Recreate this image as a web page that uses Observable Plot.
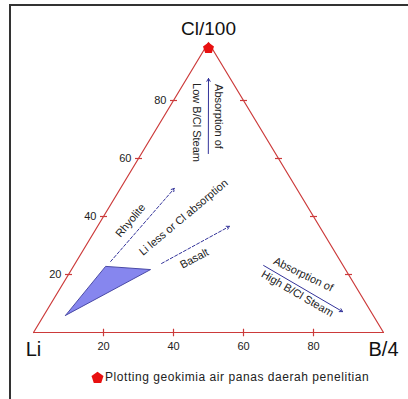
<!DOCTYPE html>
<html>
<head>
<meta charset="utf-8">
<script src="https://cdn.jsdelivr.net/npm/d3@7"></script>
<script src="https://cdn.jsdelivr.net/npm/@observablehq/plot@0.6"></script>
<style>
  html, body { margin: 0; padding: 0; background: #fff; overflow: hidden; }
  #wrap { position: relative; width: 408px; height: 399px; font-family: "Liberation Sans", Arial, sans-serif; }
  #border { position: absolute; left: 9px; top: 4px; width: 420px; height: 420px; border-left: 2px solid #333; border-top: 2px solid #333; box-sizing: border-box; pointer-events: none; }
  #legend { position: absolute; left: 0; top: 369px; width: 408px; height: 16px; font-size: 12px; color: #222; }
  #legend svg { position: absolute; left: 91px; top: 2px; }
  #legend span { position: absolute; left: 105px; top: 1px; letter-spacing: 0.55px; }
</style>
</head>
<body>
<div id="wrap">
  <div id="chart"></div>
  <div id="legend"></div>
  <div id="border"></div>
</div>
<script>
// Corner labels (Li, B/4, Cl/100)
const cornerNames = ["Li", "B/4", "Cl/100"];
const cornerLi = [100, 0, 0];
const cornerB  = [0, 100, 0];
const cornerCl = [0, 0, 100];

// Tick values on the edges
const tickValues = [20, 40, 60, 80];

// Field polygon (Li, B, Cl in %)
const fieldLi = [87.9, 68.0, 55.7];
const fieldB  = [6.2, 9.2, 22.6];
const fieldCl = [5.9, 22.8, 21.7];

// Sample point (plotted hot-spring sample)
const sampleLi = [1];
const sampleB  = [1];
const sampleCl = [98];
const legendLabel = "Plotting geokimia air panas daerah penelitian";

// Process arrows (start B, Cl -> end B, Cl)
const arrowStartB  = [9.8, 24.7, 54.2, 19.1];
const arrowStartCl = [24.5, 23.8, 23.1, 61.7];
const arrowEndB    = [15.4, 37.7, 84.7, 6.2];
const arrowEndCl   = [49.7, 36.6, 7.2, 87.6];
const arrowDashed  = [true, true, false, false];

// Annotation texts (position in B, Cl; angle)
const annText  = ["Rhyolite", "Li less or Cl absorption", "Basalt", "Absorption of", "High B/Cl Steam", "Absorption of", "Low B/Cl Steam"];
const annB     = [8.4, 23.0, 33.2, 67.1, 68.7, 15.6, 10.4];
const annCl    = [38.6, 39.7, 25.5, 20.0, 13.4, 74.5, 72.4];
const annAngle = [-50, -40, -28, 26, 30, 90, 90];

// ternary -> cartesian (x in 0..100 along base, y = Cl)
const tx = (B, Cl) => B + Cl / 2;

const corners = cornerNames.map((n, i) => ({name: n, x: tx(cornerB[i], cornerCl[i]), y: cornerCl[i]}));
const triangle = [0, 1, 2, 0].map(i => corners[i]);
const field = [0, 1, 2, 0].map(i => ({x: tx(fieldB[i], fieldCl[i]), y: fieldCl[i]}));
const samples = sampleB.map((b, i) => ({x: tx(b, sampleCl[i]), y: sampleCl[i]}));
const arrows = arrowStartB.map((b, i) => ({
  x1: tx(b, arrowStartCl[i]), y1: arrowStartCl[i],
  x2: tx(arrowEndB[i], arrowEndCl[i]), y2: arrowEndCl[i], dashed: arrowDashed[i]
}));
const anns = annText.map((t, i) => ({text: t, x: tx(annB[i], annCl[i]), y: annCl[i], angle: annAngle[i]}));

const leftTicks = tickValues.map(v => ({v, x: tx(0, v), y: v}));
const rightTicks = tickValues.map(v => ({v, x: tx(100 - v, v), y: v}));
const baseTicks = tickValues.map(v => ({v, x: tx(v, 0), y: 0}));

const pentagon = {
  draw(context, size) {
    const r = Math.sqrt(size / Math.PI) * 1.15;
    for (let k = 0; k < 5; k++) {
      const a = -Math.PI / 2 + k * 2 * Math.PI / 5;
      const px = r * Math.cos(a), py = r * Math.sin(a);
      if (k === 0) context.moveTo(px, py); else context.lineTo(px, py);
    }
    context.closePath();
  }
};

const red = "#cc3a3a";
const blue = "#33339a";

const chart = Plot.plot({
  width: 408,
  height: 362,
  marginLeft: 33,
  marginRight: 25,
  marginTop: 42,
  marginBottom: 30,
  style: {fontFamily: "'Liberation Sans', Arial, sans-serif", background: "transparent", overflow: "visible"},
  x: {domain: [0, 100], axis: null},
  y: {domain: [0, 100], axis: null},
  marks: [
    Plot.line(field, {x: "x", y: "y", fill: "#8686ee", stroke: "#4a4aa6", strokeWidth: 1}),
    Plot.line(triangle, {x: "x", y: "y", stroke: red, strokeWidth: 1.2}),
    Plot.link(leftTicks, {x1: d => d.x - 1, x2: d => d.x + 1, y1: "y", y2: "y", stroke: red, strokeWidth: 1.2}),
    Plot.link(rightTicks, {x1: d => d.x - 1, x2: d => d.x + 1, y1: "y", y2: "y", stroke: red, strokeWidth: 1.2}),
    Plot.link(baseTicks, {x1: "x", x2: "x", y1: -1.3, y2: 1.3, stroke: red, strokeWidth: 1.2}),
    Plot.text(leftTicks, {x: "x", y: "y", text: d => String(d.v), textAnchor: "end", dx: -7, fontSize: 11, fill: "#222"}),
    Plot.text(baseTicks, {x: "x", y: "y", text: d => String(d.v), dy: 14, fontSize: 11, fill: "#222"}),
    Plot.text(corners.slice(0, 2), {x: "x", y: "y", text: "name", dy: 17, fontSize: 20, fill: "#111"}),
    Plot.text(corners.slice(2), {x: "x", y: "y", text: "name", dy: -14, fontSize: 19, fill: "#111"}),
    Plot.arrow(arrows.filter(d => d.dashed), {x1: "x1", y1: "y1", x2: "x2", y2: "y2", stroke: blue, strokeWidth: 1, headLength: 5, strokeDasharray: "3,2"}),
    Plot.arrow(arrows.filter(d => !d.dashed), {x1: "x1", y1: "y1", x2: "x2", y2: "y2", stroke: blue, strokeWidth: 1, headLength: 5}),
    Plot.text(anns, {x: "x", y: "y", text: "text", rotate: "angle", fontSize: 11, fill: "#222"}),
    Plot.dot(samples, {x: "x", y: "y", symbol: pentagon, r: 5, fill: "#e81010", stroke: "none"})
  ]
});
document.getElementById("chart").appendChild(chart);

// Legend
const legend = document.getElementById("legend");
const ns = "http://www.w3.org/2000/svg";
const lsvg = document.createElementNS(ns, "svg");
lsvg.setAttribute("width", 13);
lsvg.setAttribute("height", 13);
const lpath = document.createElementNS(ns, "path");
const pctx = d3.path();
pentagon.draw(pctx, Math.PI * 30);
lpath.setAttribute("d", pctx.toString());
lpath.setAttribute("transform", "translate(6.5,7)");
lpath.setAttribute("fill", "#e81010");
lsvg.appendChild(lpath);
legend.appendChild(lsvg);
const span = document.createElement("span");
span.textContent = legendLabel;
legend.appendChild(span);
</script>
</body>
</html>
